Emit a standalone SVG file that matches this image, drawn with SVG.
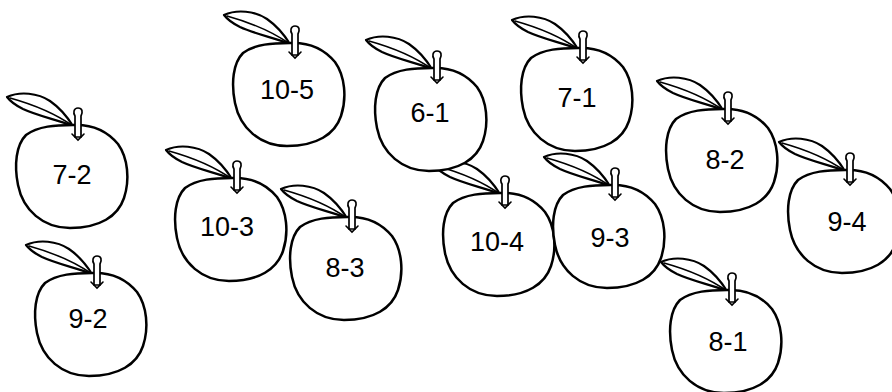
<svg xmlns="http://www.w3.org/2000/svg" xmlns:xlink="http://www.w3.org/1999/xlink" width="892" height="392" viewBox="0 0 892 392">
  <style>
    .body { fill: #ffffff; stroke: #000000; stroke-width: 2.5; stroke-linejoin: round; }
    .leaf { fill: #ffffff; stroke: #000000; stroke-width: 2.2; stroke-linejoin: round; }
    .rib { fill: none; stroke: #000000; stroke-width: 1.6; stroke-linecap: round; }
    .stem { fill: #ffffff; stroke: #000000; stroke-width: 1.7; stroke-linejoin: round; }
    .lbl { font-family: "Liberation Sans", Arial, sans-serif; font-size: 27px; fill: #000000; text-anchor: middle; }
  </style>
  <defs>
    <g id="apple">
      <path class="leaf" d="M -71,-43 C -58,-49 -40,-47 -28,-39 C -18,-32 -10,-22 -5,-14 C -20,-20 -40,-24 -55,-31 C -63,-35 -68,-39 -71,-43 Z"/>
      <path class="rib" d="M -68,-42 C -50,-37 -25,-28 -5,-14"/>
      <path class="body" d="M -5,-15 C 15,-16 30,-8 40,4 C 50,18 52,40 46,58 C 40,76 22,88 -8,88 C -35,88 -55,70 -60,45 C -64,25 -62,5 -52,-5 C -40,-14 -22,-15 -5,-15 Z"/>
      <path class="stem" d="M -3,-3 L -3,-24 C -5,-27 -4.5,-32 0,-32 C 4.5,-32 5,-28 3,-24 L 3,-3 Z"/>
      <path class="rib" d="M -6,-6 L 0,0 L 6,-6"/>
    </g>
  </defs>
  <g id="apple-10-5" transform="translate(295,58)"><use xlink:href="#apple" href="#apple"/><text class="lbl" x="-8" y="41">10-5</text></g>
  <g id="apple-7-1" transform="translate(583,63)"><use xlink:href="#apple" href="#apple"/><text class="lbl" x="-6" y="44">7-1</text></g>
  <g id="apple-7-2" transform="translate(78,140)"><use xlink:href="#apple" href="#apple"/><text class="lbl" x="-6" y="44">7-2</text></g>
  <g id="apple-8-2" transform="translate(728,124)"><use xlink:href="#apple" href="#apple"/><text class="lbl" x="-3" y="45">8-2</text></g>
  <g id="apple-10-4" transform="translate(505,208)"><use xlink:href="#apple" href="#apple"/><text class="lbl" x="-8" y="43">10-4</text></g>
  <g id="apple-6-1" transform="translate(437,83)"><use xlink:href="#apple" href="#apple"/><text class="lbl" x="-7" y="39">6-1</text></g>
  <g id="apple-10-3" transform="translate(237,193)"><use xlink:href="#apple" href="#apple"/><text class="lbl" x="-10" y="43">10-3</text></g>
  <g id="apple-8-3" transform="translate(352,232)"><use xlink:href="#apple" href="#apple"/><text class="lbl" x="-7" y="45">8-3</text></g>
  <g id="apple-9-3" transform="translate(615,200)"><use xlink:href="#apple" href="#apple"/><text class="lbl" x="-5" y="47">9-3</text></g>
  <g id="apple-9-4" transform="translate(850,185)"><use xlink:href="#apple" href="#apple"/><text class="lbl" x="-3" y="46">9-4</text></g>
  <g id="apple-9-2" transform="translate(97,288)"><use xlink:href="#apple" href="#apple"/><text class="lbl" x="-9" y="40">9-2</text></g>
  <g id="apple-8-1" transform="translate(732,305)"><use xlink:href="#apple" href="#apple"/><text class="lbl" x="-4" y="46">8-1</text></g>
</svg>
